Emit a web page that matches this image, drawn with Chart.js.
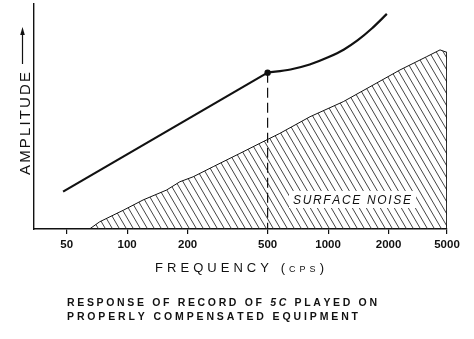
<!DOCTYPE html>
<html>
<head>
<meta charset="utf-8">
<script src="https://cdn.jsdelivr.net/npm/chart.js@4/dist/chart.umd.min.js"></script>
<style>
  html, body { margin: 0; padding: 0; background: #ffffff; }
  canvas { display: block; }
</style>
</head>
<body>
<canvas id="c" width="474" height="339"></canvas>
<script>
// ---------------- DATA ----------------
const xTickValues = [50, 100, 200, 500, 1000, 2000, 5000];

// response of the record, straight part (below turnover at 500 cps)
const responseLowFreq = [48, 500];
const responseLowAmp  = [16.6, 69.5];

// response above 500 cps (rising curve)
const responseHighFreq = [500, 650, 810, 1000, 1200, 1400, 1650, 1960];
const responseHighAmp  = [69.5, 70.9, 73.1, 76.3, 79.8, 83.8, 89.1, 95.6];

// turnover marker (dashed drop line)
const turnoverFreq = [500, 500];
const turnoverAmp  = [69.5, 0];

// surface noise region (upper boundary, closed at 5000 cps)
const noiseFreq = [65, 73, 96, 120, 157, 183, 213, 268, 364, 458, 575, 813, 1190, 1615, 2392, 3636, 4482, 5000, 5000];
const noiseAmp  = [0, 3.2, 8.4, 12.9, 17.3, 21.0, 23.2, 27.7, 33.6, 38.1, 42.5, 49.9, 56.6, 63.2, 70.7, 76.6, 79.6, 78.5, 0];

const xAxisTitle = "FREQUENCY";
const xAxisUnit = "CPS";
const yAxisTitle = "AMPLITUDE";
const regionLabel = "SURFACE NOISE";
const captionLine1 = ["RESPONSE OF RECORD OF ", "5C", " PLAYED ON"];
const captionLine2 = "PROPERLY COMPENSATED EQUIPMENT";

// ---------------- SCALE (log axis whose last octave span is compressed, as drawn) ----------------
const KNEE = 2000, KNEE_FRAC = 0.8586;
const L10 = Math.log10;
class BrokenLogScale extends Chart.LogarithmicScale {
  _dec(v) {
    const lmin = L10(this.min), lmax = L10(this.max), lk = L10(KNEE);
    if (v <= KNEE) return (L10(v) - lmin) / (lk - lmin) * KNEE_FRAC;
    return KNEE_FRAC + (L10(v) - lk) / (lmax - lk) * (1 - KNEE_FRAC);
  }
  getPixelForValue(v) {
    if (v === null || v === undefined || isNaN(v) || v <= 0) return NaN;
    return this.getPixelForDecimal(this._dec(v));
  }
  getValueForPixel(p) {
    const d = this.getDecimalForPixel(p);
    const lmin = L10(this.min), lmax = L10(this.max), lk = L10(KNEE);
    if (d <= KNEE_FRAC) return Math.pow(10, lmin + d / KNEE_FRAC * (lk - lmin));
    return Math.pow(10, lk + (d - KNEE_FRAC) / (1 - KNEE_FRAC) * (lmax - lk));
  }
}
BrokenLogScale.id = 'brokenLog';
BrokenLogScale.defaults = Chart.LogarithmicScale.defaults;
Chart.register(BrokenLogScale);

const pts = (xs, ys) => xs.map((x, i) => ({ x: x, y: ys[i] }));

function hatchPattern(ctx) {
  const w = 7, h = 12;
  const c = document.createElement('canvas');
  c.width = w; c.height = h;
  const g = c.getContext('2d');
  g.strokeStyle = '#222222';
  g.lineWidth = 0.85;
  g.beginPath();
  for (const dx of [-w, 0, w]) { g.moveTo(dx - w, -h); g.lineTo(dx + 2 * w, 2 * h); }
  g.stroke();
  return ctx.createPattern(c, 'repeat');
}

const FONT = '"Liberation Sans", Arial, sans-serif';

function drawSpaced(ctx, parts, x, y, targetW) {
  const chars = [];
  parts.forEach(([t, f]) => { for (const ch of t) chars.push([ch, f]); });
  let nat = 0;
  chars.forEach(([ch, f]) => { ctx.font = f; nat += ctx.measureText(ch).width; });
  const ls = (targetW - nat) / (chars.length - 1);
  let cx = x;
  chars.forEach(([ch, f]) => { ctx.font = f; ctx.fillText(ch, cx, y); cx += ctx.measureText(ch).width + ls; });
}

const textPlugin = {
  id: 'texts',
  afterDatasetsDraw(chart) {
    const ctx = chart.ctx;
    ctx.save();
    ctx.fillStyle = '#ffffff';
    ctx.fillRect(289, 191, 127, 17);
    ctx.fillStyle = '#111111';
    ctx.textBaseline = 'alphabetic';
    ctx.textAlign = 'left';
    drawSpaced(ctx, [[regionLabel, 'italic 12px ' + FONT]], 293, 204, 118);
    ctx.restore();
  },
  afterDraw(chart) {
    const ctx = chart.ctx;
    ctx.save();
    ctx.fillStyle = '#111111';
    ctx.strokeStyle = '#111111';
    ctx.textBaseline = 'alphabetic';
    ctx.textAlign = 'left';
    // x axis title
    drawSpaced(ctx, [[xAxisTitle, '13px ' + FONT], [' (', '13px ' + FONT], [xAxisUnit, '9px ' + FONT], [')', '13px ' + FONT]], 155, 272, 169);
    // y axis title (rotated) and arrow
    ctx.save();
    ctx.translate(30, 175);
    ctx.rotate(-Math.PI / 2);
    drawSpaced(ctx, [[yAxisTitle, '15px ' + FONT]], 0, 0, 103);
    ctx.restore();
    ctx.lineWidth = 1.2;
    ctx.beginPath(); ctx.moveTo(22.5, 64); ctx.lineTo(22.5, 32); ctx.stroke();
    ctx.beginPath(); ctx.moveTo(22.5, 27); ctx.lineTo(20.2, 35); ctx.lineTo(24.8, 35); ctx.closePath(); ctx.fill();
    // caption
    drawSpaced(ctx, [[captionLine1[0], 'bold 10.5px ' + FONT], [captionLine1[1], 'italic bold 10.5px ' + FONT], [captionLine1[2], 'bold 10.5px ' + FONT]], 67, 306, 310);
    drawSpaced(ctx, [[captionLine2, 'bold 10.5px ' + FONT]], 67, 319.5, 291);
    ctx.restore();
  }
};

const canvas = document.getElementById('c');
const ctx = canvas.getContext('2d');

new Chart(ctx, {
  type: 'line',
  data: {
    datasets: [
      {
        label: 'Surface noise',
        data: pts(noiseFreq, noiseAmp),
        borderColor: '#111111',
        borderWidth: 1,
        backgroundColor: hatchPattern(ctx),
        fill: 'origin',
        pointRadius: 0,
        tension: 0
      },
      {
        label: 'Turnover',
        data: pts(turnoverFreq, turnoverAmp),
        borderColor: '#111111',
        borderWidth: 1.2,
        borderDash: [10, 5],
        pointRadius: 0,
        fill: false
      },
      {
        label: 'Response (low)',
        data: pts(responseLowFreq, responseLowAmp),
        borderColor: '#111111',
        borderWidth: 2.2,
        pointRadius: 0,
        tension: 0,
        fill: false
      },
      {
        label: 'Response (high)',
        data: pts(responseHighFreq, responseHighAmp),
        borderColor: '#111111',
        borderWidth: 2.2,
        pointRadius: (c) => c.dataIndex === 0 ? 3.2 : 0,
        pointBackgroundColor: '#111111',
        pointBorderWidth: 0,
        cubicInterpolationMode: 'monotone',
        fill: false
      }
    ]
  },
  options: {
    responsive: false,
    animation: false,
    devicePixelRatio: 1,
    layout: { padding: { top: 4, right: 27, bottom: 0, left: 0 } },
    plugins: { legend: { display: false }, tooltip: { enabled: false }, title: { display: false } },
    scales: {
      x: {
        type: 'brokenLog',
        min: 34.4,
        max: 5000,
        afterBuildTicks: (s) => { s.ticks = xTickValues.map(v => ({ value: v })); },
        afterFit: (s) => { s.height = 110; },
        border: { display: true, color: '#111111', width: 1.4 },
        grid: { display: true, drawOnChartArea: false, drawTicks: true, tickLength: 5, color: '#111111', lineWidth: 1.2 },
        ticks: {
          autoSkip: false, maxRotation: 0, padding: 4,
          color: '#111111',
          font: { family: FONT, size: 11.5, weight: 'bold' },
          callback: (v) => String(v)
        }
      },
      y: {
        type: 'linear',
        min: 0,
        max: 100,
        afterFit: (s) => { s.width = 34; },
        border: { display: true, color: '#111111', width: 1.4 },
        grid: { display: false },
        ticks: { display: false }
      }
    }
  },
  plugins: [textPlugin]
});
</script>
</body>
</html>
